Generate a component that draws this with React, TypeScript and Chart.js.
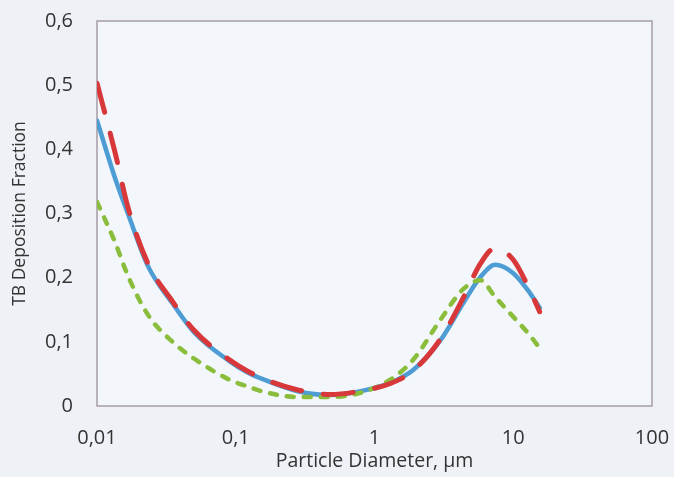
import React, { useEffect, useRef } from 'react';
import { Chart, registerables } from 'chart.js';

Chart.register(...registerables);

// Particle diameters (µm)
const diameters = [0.01, 0.0135, 0.0167, 0.0233, 0.035, 0.05, 0.09, 0.12, 0.16, 0.28, 0.48, 0.83, 1.3, 1.9, 3, 4.35, 5.8, 7.4, 10, 13.2, 15.5];

// TB deposition fraction series
const blueSeries = [0.445, 0.355, 0.3, 0.218, 0.16, 0.115, 0.07, 0.053, 0.041, 0.023, 0.017, 0.024, 0.036, 0.056, 0.103, 0.16, 0.201, 0.22, 0.207, 0.176, 0.153];
const redSeries = [0.503, 0.395, 0.31, 0.222, 0.163, 0.118, 0.072, 0.055, 0.042, 0.025, 0.018, 0.024, 0.035, 0.055, 0.105, 0.168, 0.222, 0.246, 0.228, 0.18, 0.147];
const greenSeries = [0.318, 0.255, 0.203, 0.142, 0.1, 0.074, 0.041, 0.031, 0.022, 0.014, 0.014, 0.022, 0.041, 0.072, 0.135, 0.182, 0.196, 0.17, 0.139, 0.11, 0.09];

const xTicks = [0.01, 0.1, 1, 10, 100];
const yTicks = [0, 0.1, 0.2, 0.3, 0.4, 0.5, 0.6];

const FONT = '"Open Sans", Lato, "Noto Sans", sans-serif';
const TEXT = '#333333';

const fmt = (v: number) => (v === 0 ? '0' : String(Number(v.toFixed(2))).replace('.', ','));

const framePlugin = {
  id: 'frame',
  beforeDraw(chart: any) {
    const { ctx, width, height } = chart;
    ctx.save();
    ctx.fillStyle = '#eef2f7';
    ctx.fillRect(0, 0, width, height);
    ctx.restore();
  },
  beforeDatasetsDraw(chart: any) {
    const { ctx, chartArea } = chart;
    const { left, top, right, bottom } = chartArea;
    ctx.save();
    ctx.fillStyle = '#f3f6fa';
    ctx.fillRect(left, top, right - left, bottom - top);
    ctx.strokeStyle = '#a79ca5';
    ctx.lineWidth = 1.5;
    ctx.strokeRect(left, top, right - left, bottom - top);
    ctx.restore();
  },
};

export default function App() {
  const ref = useRef<HTMLCanvasElement | null>(null);

  useEffect(() => {
    if (!ref.current) return;
    const toPts = (ys: number[]) => diameters.map((d, i) => ({ x: d, y: ys[i] }));
    const common = {
      showLine: true,
      pointRadius: 0,
      cubicInterpolationMode: 'monotone',
      borderCapStyle: 'round',
    };
    const chart = new Chart(ref.current, {
      type: 'scatter',
      data: {
        datasets: [
          {
            ...common,
            label: 'Red',
            data: toPts(redSeries),
            borderColor: '#d8383a',
            borderWidth: 5,
            borderDash: [30, 22],
            order: 1,
          },
          {
            ...common,
            label: 'Green',
            data: toPts(greenSeries),
            borderColor: '#8abd3c',
            borderWidth: 4.5,
            borderDash: [7, 10],
            order: 2,
          },
          {
            ...common,
            label: 'Blue',
            data: toPts(blueSeries),
            borderColor: '#4d9cd3',
            borderWidth: 4.5,
            order: 3,
          },
        ],
      },
      options: {
        responsive: false,
        animation: false,
        devicePixelRatio: 1,
        layout: { padding: { top: 21, right: 22, left: 0, bottom: 0 } },
        plugins: { legend: { display: false }, tooltip: { enabled: false } },
        scales: {
          x: {
            type: 'logarithmic',
            min: 0.01,
            max: 100,
            afterBuildTicks: (s: any) => {
              s.ticks = xTicks.map((v) => ({ value: v }));
            },
            afterFit: (s: any) => {
              s.height = 71;
              s.paddingLeft = 0;
              s.paddingRight = 0;
            },
            grid: { display: false, drawTicks: false },
            border: { display: false },
            ticks: {
              autoSkip: false,
              maxRotation: 0,
              padding: 20,
              color: TEXT,
              font: { family: FONT, size: 20 },
              callback: (v: any) => fmt(Number(v)),
            },
            title: {
              display: true,
              text: 'Particle Diameter, µm',
              color: TEXT,
              font: { family: FONT, size: 19.5 },
              padding: { top: 0, bottom: 4 },
            },
          },
          y: {
            min: 0,
            max: 0.6,
            afterBuildTicks: (s: any) => {
              s.ticks = yTicks.map((v) => ({ value: v }));
            },
            afterFit: (s: any) => {
              s.width = 97;
              s.paddingTop = 0;
              s.paddingBottom = 0;
            },
            grid: { display: false, drawTicks: false },
            border: { display: false },
            ticks: {
              padding: 24,
              color: TEXT,
              font: { family: FONT, size: 20 },
              callback: (v: any) => fmt(Number(v)),
            },
            title: {
              display: true,
              text: 'TB Deposition Fraction',
              color: TEXT,
              font: { family: FONT, size: 17.5 },
              padding: { top: 10, bottom: 0 },
            },
          },
        },
      },
      plugins: [framePlugin],
    } as any);
    return () => chart.destroy();
  }, []);

  return (
    <div style={{ position: 'absolute', left: 0, top: 0, width: 674, height: 477 }}>
      <canvas ref={ref} width={674} height={477} style={{ display: 'block' }} />
    </div>
  );
}
